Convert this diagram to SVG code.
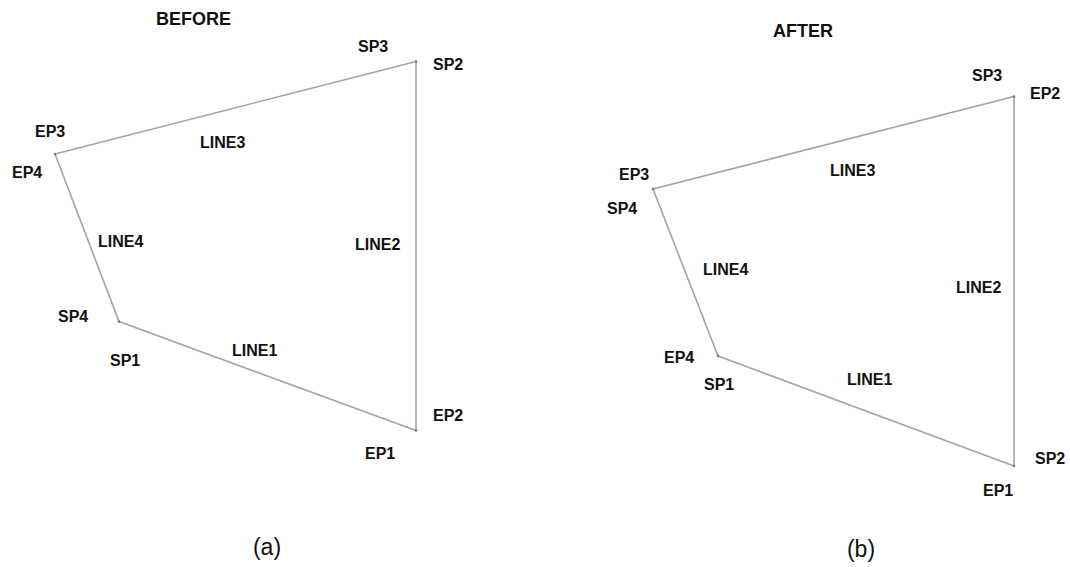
<svg xmlns="http://www.w3.org/2000/svg" width="1070" height="567" viewBox="0 0 1070 567">
<style>
.edge{fill:none;stroke:#a3a3a3;stroke-width:1.6;stroke-linejoin:miter}
.lbl{font-family:"Liberation Sans",Arial,sans-serif;font-weight:bold;font-size:16px;fill:#111}
.ttl{font-family:"Liberation Sans",Arial,sans-serif;font-weight:bold;font-size:18px;fill:#111}
.cap{font-family:"Liberation Sans",Arial,sans-serif;font-size:23px;fill:#111;text-anchor:middle}
.pt{fill:#777}
</style>
<rect width="1070" height="567" fill="#fff"/>
<g id="connectors">
  <g id="before-lines">
    <line id="b-line1" class="edge" x1="119" y1="321.5" x2="416" y2="430.5"/>
    <line id="b-line2" class="edge" x1="416" y1="61.5" x2="416" y2="430.5"/>
    <line id="b-line3" class="edge" x1="416" y1="61.5" x2="55" y2="154"/>
    <line id="b-line4" class="edge" x1="55" y1="154" x2="119" y2="321.5"/>
  </g>
  <g id="after-lines">
    <line id="a-line1" class="edge" x1="718" y1="356" x2="1014" y2="466"/>
    <line id="a-line2" class="edge" x1="1014" y1="96.5" x2="1014" y2="466"/>
    <line id="a-line3" class="edge" x1="1014" y1="96.5" x2="653" y2="189"/>
    <line id="a-line4" class="edge" x1="653" y1="189" x2="718" y2="356"/>
  </g>
</g>
<g id="before">
  <text class="ttl" x="156" y="25">BEFORE</text>
  <g id="b-corner-top-right"><circle class="pt" cx="416" cy="61.5" r="1.3"/><text class="lbl" x="358" y="52">SP3</text><text class="lbl" x="433" y="70">SP2</text></g>
  <g id="b-corner-left"><circle class="pt" cx="55" cy="154" r="1.3"/><text class="lbl" x="35" y="137">EP3</text><text class="lbl" x="12" y="178">EP4</text></g>
  <g id="b-corner-bottom-left"><circle class="pt" cx="119" cy="321.5" r="1.3"/><text class="lbl" x="58" y="322">SP4</text><text class="lbl" x="110" y="366">SP1</text></g>
  <g id="b-corner-bottom-right"><circle class="pt" cx="416" cy="430.5" r="1.3"/><text class="lbl" x="433" y="421">EP2</text><text class="lbl" x="365" y="459">EP1</text></g>
  <g id="b-line-labels">
    <text class="lbl" x="200" y="148">LINE3</text>
    <text class="lbl" x="98" y="247">LINE4</text>
    <text class="lbl" x="355" y="250">LINE2</text>
    <text class="lbl" x="232" y="356">LINE1</text>
  </g>
  <text class="cap" x="267" y="555">(a)</text>
</g>
<g id="after">
  <text class="ttl" x="773" y="37">AFTER</text>
  <g id="a-corner-top-right"><circle class="pt" cx="1014" cy="96.5" r="1.3"/><text class="lbl" x="972" y="81">SP3</text><text class="lbl" x="1030" y="99">EP2</text></g>
  <g id="a-corner-left"><circle class="pt" cx="653" cy="189" r="1.3"/><text class="lbl" x="619" y="180">EP3</text><text class="lbl" x="607" y="214">SP4</text></g>
  <g id="a-corner-bottom-left"><circle class="pt" cx="718" cy="356" r="1.3"/><text class="lbl" x="664" y="363">EP4</text><text class="lbl" x="704" y="390">SP1</text></g>
  <g id="a-corner-bottom-right"><circle class="pt" cx="1014" cy="466" r="1.3"/><text class="lbl" x="1035" y="464">SP2</text><text class="lbl" x="983" y="496">EP1</text></g>
  <g id="a-line-labels">
    <text class="lbl" x="830" y="176">LINE3</text>
    <text class="lbl" x="703" y="275">LINE4</text>
    <text class="lbl" x="956" y="293">LINE2</text>
    <text class="lbl" x="847" y="385">LINE1</text>
  </g>
  <text class="cap" x="861" y="557">(b)</text>
</g>
</svg>
